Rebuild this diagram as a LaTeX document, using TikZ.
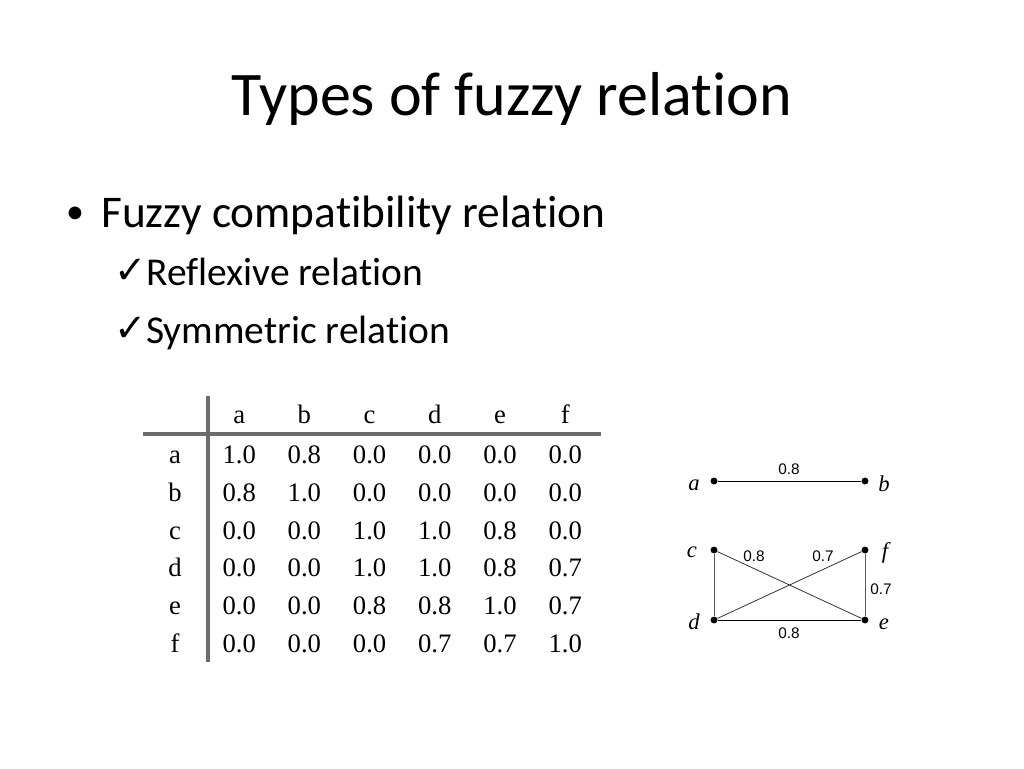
\documentclass[tikz,border=0pt]{standalone}
\usepackage{fontspec}
\setmainfont[Ligatures=NoCommon]{Carlito}
\newfontfamily\tabfont{Liberation Serif}
\newfontfamily\numfont{Liberation Sans}
\newfontfamily\symfont{DejaVu Sans}

\begin{document}
\begin{tikzpicture}[x=0.75pt,y=-0.75pt,
  cell/.style={font=\tabfont\fontsize{20}{20}\selectfont,anchor=base,inner sep=0pt},
  tick/.style={anchor=base east,font=\symfont\fontsize{29}{29}\selectfont,inner sep=0pt},
  vertex/.style={circle,fill=black,inner sep=0pt,minimum size=5.2pt},
  vlabel/.style={font=\tabfont\itshape\fontsize{17}{17}\selectfont,inner sep=0pt},
  wlabel/.style={font=\numfont\fontsize{11.5}{11.5}\selectfont,inner sep=0pt}]

\useasboundingbox (0,0) rectangle (1024,768);

% title and bullets
\node[anchor=base,font=\fontsize{46.5}{46.5}\selectfont,inner sep=0pt] (title) at (512,115) {Types of fuzzy relation};
\node[anchor=base west,font=\fontsize{34}{34}\selectfont,inner sep=0pt] (item) at (101,227) {Fuzzy compatibility relation};
\node[anchor=base,font=\fontsize{27}{27}\selectfont,inner sep=0pt] (dot) at (75,223) {•};
\node[anchor=base west,font=\fontsize{29.6}{29.6}\selectfont,inner sep=0pt] (refl) at (146,285) {Reflexive relation};
\node[tick] (tick1) at (147,283) {✓};
\node[anchor=base west,font=\fontsize{29.6}{29.6}\selectfont,inner sep=0pt] (symm) at (146,343) {Symmetric relation};
\node[tick] (tick2) at (147,341) {✓};

% table
\draw[gray!85!black,line width=2.4pt] (143,434) -- (601,434);
\draw[gray!85!black,line width=2.4pt] (208,396) -- (208,662);
\foreach \name [count=\j] in {a,b,c,d,e,f}
  \node[cell] (h\j) at (174+65.2*\j,423) {\name};
\foreach \name/\vals [count=\i] in {
  a/{1.0,0.8,0.0,0.0,0.0,0.0},
  b/{0.8,1.0,0.0,0.0,0.0,0.0},
  c/{0.0,0.0,1.0,1.0,0.8,0.0},
  d/{0.0,0.0,1.0,1.0,0.8,0.7},
  e/{0.0,0.0,0.8,0.8,1.0,0.7},
  f/{0.0,0.0,0.0,0.7,0.7,1.0}}{
  \node[cell] (r\i) at (175,426+37.7*\i) {\name};
  \foreach \v [count=\j] in \vals
    \node[cell] (r\i c\j) at (174+65.2*\j,426+37.7*\i) {\v};
}

% graph
\node[vertex] (a) at (714,481) {};
\node[vertex] (b) at (865,481) {};
\node[vertex] (c) at (714,550) {};
\node[vertex] (f) at (865,550) {};
\node[vertex] (d) at (714,620) {};
\node[vertex] (e) at (865,620) {};
\node[vlabel] (la) at (694,485) {a};
\node[vlabel] (lb) at (884,484) {b};
\node[vlabel] (lc) at (692,552) {c};
\node[vlabel] (lf) at (885,553) {f};
\node[vlabel] (ld) at (694,622) {d};
\node[vlabel] (le) at (884,624) {e};

\draw[semithick] (a) -- (b);
\draw[semithick] (d) -- (e);
\draw[gray!70!black,semithick] (c) -- (d);
\draw[gray!70!black,semithick] (f) -- (e);
\draw[gray!40!black,semithick] (c) -- (e);
\draw[gray!40!black,semithick] (d) -- (f);

\node[wlabel] (wab) at (789,469) {0.8};
\node[wlabel] (wce) at (754,556) {0.8};
\node[wlabel] (wdf) at (823,556) {0.7};
\node[wlabel] (wfe) at (881,589) {0.7};
\node[wlabel] (wde) at (789,633) {0.8};

\end{tikzpicture}
\end{document}
